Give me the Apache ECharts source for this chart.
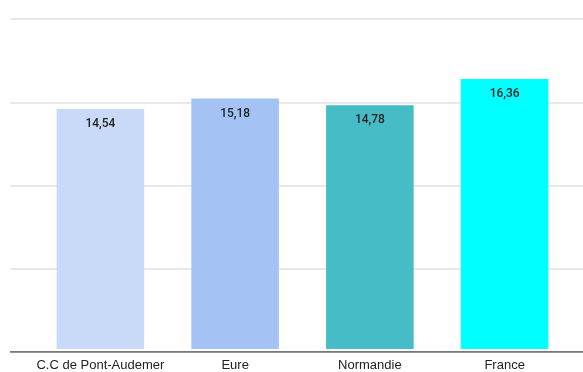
<!DOCTYPE html>
<html><head><meta charset="utf-8">
<script src="https://cdn.jsdelivr.net/npm/echarts@6/dist/echarts.min.js"></script>
<style>html,body{margin:0;padding:0;background:#fff}#c{width:583px;height:372px}</style>
</head><body><div id="c"></div>
<script>
const categories = ["C.C de Pont-Audemer", "Eure", "Normandie", "France"];
const values = [14.54, 15.18, 14.78, 16.36];
const colors = ["#c9daf8", "#a4c2f4", "#46bdc6", "#00ffff"];
const yMin = 0, yMax = 20, yInterval = 5;

const chart = echarts.init(document.getElementById('c'));
chart.setOption({
  animation: false,
  grid: [
    {left: 10, right: 0, top: 19, bottom: 20},
    {left: 33, right: 11, top: 19, bottom: 20}
  ],
  xAxis: [
    {gridIndex: 0, type: 'value', min: 0, max: 1, show: true,
     axisLine: {show: false}, axisTick: {show: false}, axisLabel: {show: false}, splitLine: {show: false}},
    {gridIndex: 1, type: 'category', data: categories,
     axisLine: {show: false}, axisTick: {show: false},
     axisLabel: {interval: 0, color: '#222', fontSize: 13, fontFamily: '"Liberation Sans", Arial, sans-serif', margin: 10}}
  ],
  yAxis: [
    {gridIndex: 0, type: 'value', min: yMin, max: yMax, interval: yInterval,
     axisLabel: {show: false}, axisLine: {show: false}, axisTick: {show: false},
     splitLine: {show: true, lineStyle: {color: '#e0e0e0', width: 1.5}}},
    {gridIndex: 1, type: 'value', min: yMin, max: yMax, interval: yInterval,
     axisLabel: {show: false}, axisLine: {show: false}, axisTick: {show: false}, splitLine: {show: false}}
  ],
  series: [
    {type: 'line', xAxisIndex: 0, yAxisIndex: 0, data: [[0, 0], [1, 0]], symbol: 'none', silent: true,
     lineStyle: {color: '#555', width: 1.5}, z: 5},
    {type: 'bar', xAxisIndex: 1, yAxisIndex: 1, barCategoryGap: '35%',
     data: values.map((v, i) => ({value: v, itemStyle: {color: colors[i]}})),
     label: {show: true, position: 'insideTop', distance: 9, color: '#222', fontSize: 12, fontWeight: 500,
       fontFamily: 'Roboto, Arial, sans-serif',
       formatter: p => p.value.toFixed(2).replace('.', ',')}}
  ]
});
</script></body></html>
